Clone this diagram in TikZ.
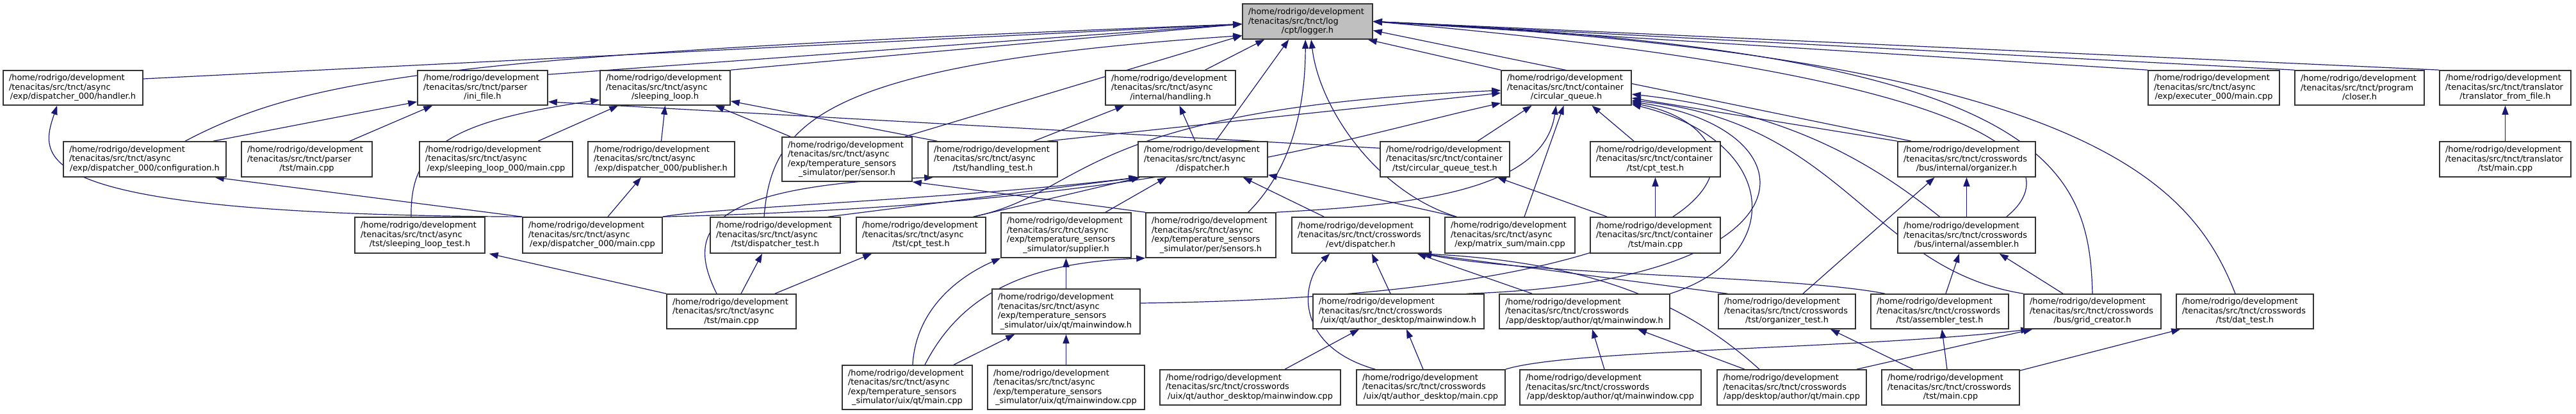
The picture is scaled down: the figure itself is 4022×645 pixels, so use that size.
\documentclass[tikz,border=0pt]{standalone}
\usepackage{fontspec}
\newfontfamily\dvs{DejaVu Sans}
\usetikzlibrary{arrows.meta,calc,backgrounds}
\definecolor{edgeblue}{RGB}{25,25,112}
\definecolor{loggrey}{RGB}{191,191,191}
\newcommand\lastln[1]{\makebox[\hsize][c]{#1}}
\newcommand\hrd{/home/rodrigo/development}
\newcommand\tnct[1]{/tenacitas/src/tnct/#1}
\newcommand\bx[7][]{%
  \pgfmathsetmacro\bxtw{(#5-18)*0.5}%
  \pgfmathsetmacro\bxmh{#6*0.5}%
  \node[box,#1,text width=\bxtw pt,minimum height=\bxmh pt] (#2) at (#3,-#4) {#7};}
\tikzset{
  box/.style={draw=black!80, line width=0.8pt, fill=white, inner xsep=4.5pt, inner ysep=1pt,
    align=left, font=\dvs\fontsize{6.45}{7.25}\selectfont},
  edge/.style={draw=edgeblue, line width=0.6pt, -{Triangle[length=7pt,width=5pt]}}
}
\begin{document}
\begin{tikzpicture}[x=0.5pt,y=0.5pt]
\useasboundingbox (0,0) rectangle (4022,-645);
% row 0
\bx[fill=loggrey]{logger}{2041.5}{33.5}{203}{55}{\hrd\\\tnct{log}\\\lastln{/cpt/logger.h}}
% row 1
\bx{handler}{114}{137}{218}{54}{\hrd\\\tnct{async}\\\lastln{/exp/dispatcher\_000/handler.h}}
\bx{inifile}{753.5}{137}{203}{54}{\hrd\\\tnct{parser}\\\lastln{/ini\_file.h}}
\bx{sleeploop}{1038.5}{137}{203}{54}{\hrd\\\tnct{async}\\\lastln{/sleeping\_loop.h}}
\bx{handling}{1827.5}{137}{203}{54}{\hrd\\\tnct{async}\\\lastln{/internal/handling.h}}
\bx{cq}{2445.5}{137}{203}{54}{\hrd\\\tnct{container}\\\lastln{/circular\_queue.h}}
\bx{execmain}{3456.5}{137}{205}{54}{\hrd\\\tnct{async}\\\lastln{/exp/executer\_000/main.cpp}}
\bx{closer}{3684}{137}{202}{54}{\hrd\\\tnct{program}\\\lastln{/closer.h}}
\bx{transff}{3911.5}{137}{205}{54}{\hrd\\\tnct{translator}\\\lastln{/translator\_from\_file.h}}
% row 2
\bx{config}{226}{248.5}{254}{55}{\hrd\\\tnct{async}\\\lastln{/exp/dispatcher\_000/configuration.h}}
\bx{parsermain}{479}{248.5}{204}{55}{\hrd\\\tnct{parser}\\\lastln{/tst/main.cpp}}
\bx{slmain}{774.5}{248.5}{239}{55}{\hrd\\\tnct{async}\\\lastln{/exp/sleeping\_loop\_000/main.cpp}}
\bx{publisher}{1032.5}{248.5}{229}{55}{\hrd\\\tnct{async}\\\lastln{/exp/dispatcher\_000/publisher.h}}
\bx{sensor}{1322.5}{248.5}{203}{69}{\hrd\\\tnct{async}\\/exp/temperature\_sensors\\\lastln{\_simulator/per/sensor.h}}
\bx{handlingtest}{1550}{248.5}{202}{55}{\hrd\\\tnct{async}\\\lastln{/tst/handling\_test.h}}
\bx{adisp}{1878}{248.5}{202}{55}{\hrd\\\tnct{async}\\\lastln{/dispatcher.h}}
\bx{cqtest}{2256}{248.5}{202}{55}{\hrd\\\tnct{container}\\\lastln{/tst/circular\_queue\_test.h}}
\bx{ccpttest}{2584.5}{248.5}{203}{55}{\hrd\\\tnct{container}\\\lastln{/tst/cpt\_test.h}}
\bx{organizer}{3070.5}{248.5}{215}{55}{\hrd\\\tnct{crosswords}\\\lastln{/bus/internal/organizer.h}}
\bx{transmain}{3911.5}{248.5}{205}{55}{\hrd\\\tnct{translator}\\\lastln{/tst/main.cpp}}
% row 3
\bx{sltest}{655.5}{367}{203}{56}{\hrd\\\tnct{async}\\\lastln{/tst/sleeping\_loop\_test.h}}
\bx{d000main}{925}{367}{218}{56}{\hrd\\\tnct{async}\\\lastln{/exp/dispatcher\_000/main.cpp}}
\bx{disptest}{1210.5}{367}{203}{56}{\hrd\\\tnct{async}\\\lastln{/tst/dispatcher\_test.h}}
\bx{acpttest}{1438}{367}{202}{56}{\hrd\\\tnct{async}\\\lastln{/tst/cpt\_test.h}}
\bx{supplier}{1664.5}{367}{203}{70}{\hrd\\\tnct{async}\\/exp/temperature\_sensors\\\lastln{\_simulator/supplier.h}}
\bx{sensors}{1890.5}{367}{203}{70}{\hrd\\\tnct{async}\\/exp/temperature\_sensors\\\lastln{\_simulator/per/sensors.h}}
\bx{edisp}{2124.5}{367}{215}{56}{\hrd\\\tnct{crosswords}\\\lastln{/evt/dispatcher.h}}
\bx{matrixmain}{2357.5}{367}{203}{56}{\hrd\\\tnct{async}\\\lastln{/exp/matrix\_sum/main.cpp}}
\bx{cmain}{2584.5}{367}{203}{56}{\hrd\\\tnct{container}\\\lastln{/tst/main.cpp}}
\bx{assembler}{3070.5}{367}{215}{56}{\hrd\\\tnct{crosswords}\\\lastln{/bus/internal/assembler.h}}
% row 4
\bx{amain}{1142}{486}{202}{54}{\hrd\\\tnct{async}\\\lastln{/tst/main.cpp}}
\bx{tmw}{1664.5}{486}{231}{70}{\hrd\\\tnct{async}\\/exp/temperature\_sensors\\\lastln{\_simulator/uix/qt/mainwindow.h}}
\bx{admw}{2183.5}{486}{267}{54}{\hrd\\\tnct{crosswords}\\\lastln{/uix/qt/author\_desktop/mainwindow.h}}
\bx{aqmw}{2474}{486}{266}{54}{\hrd\\\tnct{crosswords}\\\lastln{/app/desktop/author/qt/mainwindow.h}}
\bx{orgtest}{2790}{486}{214}{54}{\hrd\\\tnct{crosswords}\\\lastln{/tst/organizer\_test.h}}
\bx{asmtest}{3028.5}{486}{215}{54}{\hrd\\\tnct{crosswords}\\\lastln{/tst/assembler\_test.h}}
\bx{grid}{3267}{486}{214}{54}{\hrd\\\tnct{crosswords}\\\lastln{/bus/grid\_creator.h}}
\bx{dattest}{3505}{486}{214}{54}{\hrd\\\tnct{crosswords}\\\lastln{/tst/dat\_test.h}}
% row 5
\bx{tmain}{1416.5}{604.5}{203}{69}{\hrd\\\tnct{async}\\/exp/temperature\_sensors\\\lastln{\_simulator/uix/qt/main.cpp}}
\bx{tmwcpp}{1664.5}{604.5}{245}{69}{\hrd\\\tnct{async}\\/exp/temperature\_sensors\\\lastln{\_simulator/uix/qt/mainwindow.cpp}}
\bx{admwcpp}{1952}{604.5}{282}{55}{\hrd\\\tnct{crosswords}\\\lastln{/uix/qt/author\_desktop/mainwindow.cpp}}
\bx{admain}{2234}{604.5}{232}{55}{\hrd\\\tnct{crosswords}\\\lastln{/uix/qt/author\_desktop/main.cpp}}
\bx{aqmwcpp}{2514.5}{604.5}{283}{55}{\hrd\\\tnct{crosswords}\\\lastln{/app/desktop/author/qt/mainwindow.cpp}}
\bx{aqmain}{2797.5}{604.5}{233}{55}{\hrd\\\tnct{crosswords}\\\lastln{/app/desktop/author/qt/main.cpp}}
\bx{cwmain}{3045.5}{604.5}{215}{55}{\hrd\\\tnct{crosswords}\\\lastln{/tst/main.cpp}}

\begin{pgfonlayer}{background}
\fill[white] (0,0) rectangle (4022,-645);
% to logger
\draw[edge] ([yshift=7pt]handler.east) -- ([yshift=-2pt]logger.west);
\draw[edge] ([xshift=31.5pt]config.north) .. controls (480,-120) and (700,-85) .. ([yshift=-2pt]logger.west);
\draw[edge] ([yshift=-3.5pt]inifile.north east) -- ([yshift=-2pt]logger.west);
\draw[edge] (sleeploop.north east) -- ([yshift=-2pt]logger.west);
\draw[edge] ([xshift=-6pt]sensor.north east) -- ([yshift=-11pt]logger.west);
\draw[edge] ([xshift=-8.75pt]disptest.north) .. controls (1205,-190) and (1280,-100) .. ([yshift=-11pt]logger.west);
\draw[edge] ([xshift=27pt]handling.north) -- ([xshift=17.5pt]logger.south west);
\draw[edge] ([xshift=10pt]adisp.north) -- ([xshift=36.5pt]logger.south west);
\draw[edge] ([xshift=-22pt]sensors.north east) .. controls (2020,-260) and (2038,-160) .. ([xshift=49.5pt]logger.south west);
\draw[edge] ([xshift=9.5pt]matrixmain.north west) .. controls (2150,-300) and (2060,-170) .. ([xshift=54pt]logger.south west);
\draw[edge] (cq.north west) -- ([xshift=-4pt]logger.south east);
\draw[edge] ([xshift=11pt]organizer.north west) -- ([yshift=-7pt]logger.east);
\draw[edge] (execmain.north west) -- (logger.east);
\draw[edge] (closer.north west) -- (logger.east);
\draw[edge] (transff.north west) -- (logger.east);
\draw[edge] (grid.north) .. controls (3262,-260) and (3200,-80) .. (logger.east);
\draw[edge] ([xshift=-7.5pt]dattest.north) .. controls (3420,-280) and (3250,-90) .. (logger.east);
\draw[edge] ([xshift=-23pt]assembler.north east) .. controls (3230,-260) and (3150,-120) .. (logger.east);
% ini_file
\draw[edge] ([xshift=-10.5pt]config.north east) -- ([yshift=3pt]inifile.south west);
\draw[edge] ([xshift=33.5pt]parsermain.north) -- ([xshift=12pt]inifile.south west);
\draw[edge] ([yshift=-5.5pt]cqtest.north west) -- ([yshift=3pt]inifile.south east);
% sleeping_loop
\draw[edge] ([xshift=32.75pt]slmain.north) -- ([xshift=14.5pt]sleeploop.south west);
\draw[edge] (publisher.north) -- (sleeploop.south);
\draw[edge] ([xshift=7pt]sensor.north west) -- ([xshift=-12pt]sleeploop.south east);
\draw[edge] ([xshift=7.5pt]handlingtest.north west) -- ([yshift=3.5pt]sleeploop.south east);
\draw[edge] ([xshift=-6.75pt]sltest.north) .. controls (640,-230) and (700,-190) .. ([yshift=4.5pt]sleeploop.south west);
% dispatcher_000 main
\draw[edge] (d000main.north west) .. controls (40,-335) and (60,-250) .. ([xshift=42.5pt]handler.south west);
\draw[edge] (d000main.north west) -- ([xshift=-9pt]config.south east);
\draw[edge] ([xshift=12pt]d000main.north) -- ([xshift=-15.75pt]publisher.south);
\draw[edge] (d000main.north east) .. controls (1100,-325) and (1500,-310) .. (adisp.south west);
\draw[edge] (d000main.north east) .. controls (1800,-320) and (2100,-215) .. ([yshift=2pt]cq.south west);
% handling / circular queue
\draw[edge] ([xshift=32pt]handlingtest.north) -- ([xshift=15pt]handling.south west);
\draw[edge] ([xshift=-8.5pt]handlingtest.north east) -- ([yshift=-4pt]cq.west);
\draw[edge] ([xshift=-6pt]adisp.north) -- ([xshift=7pt]handling.south);
% async dispatcher
\draw[edge] ([xshift=-10pt]acpttest.north east) -- ([xshift=2pt]adisp.south west);
\draw[edge] ([xshift=-10pt]acpttest.north east) .. controls (1700,-300) and (1680,-170) .. ([yshift=-2pt]cq.west);
\draw[edge] ([xshift=-10pt]disptest.north east) -- ([xshift=1pt]adisp.south west);
\draw[edge] ([xshift=30.75pt]supplier.north) -- ([xshift=22.5pt]adisp.south west);
\draw[edge] ([xshift=25.5pt]edisp.north west) -- ([xshift=-19.5pt]adisp.south east);
\draw[edge] ([xshift=9.5pt]matrixmain.north west) -- ([yshift=2pt]adisp.south east);
\draw[edge] ([xshift=11.25pt]matrixmain.north) -- ([xshift=-2pt]cq.south);
% sensors
\draw[edge] (sensors.north west) -- (sensor.south east);
\draw[edge] (sensors.north east) .. controls (2200,-320) and (2410,-300) .. ([xshift=-8pt]cq.south);
% container tests
\draw[edge] ([xshift=25.5pt]cqtest.north) -- ([xshift=-27pt]cq.south);
\draw[edge] ([xshift=-16.75pt]ccpttest.north) -- ([xshift=20pt]cq.south);
\draw[edge] ([xshift=13.5pt]cmain.north west) -- ([xshift=-10pt]cqtest.south east);
\draw[edge] (cmain.north) -- (ccpttest.south);
% organizer / assembler
\draw[edge] (organizer.north west) -- ([yshift=-8pt]cq.east);
\draw[edge] ([xshift=-21pt]assembler.north) .. controls (2930,-260) and (2800,-175) .. ([yshift=-5pt]cq.east);
\draw[edge] ([xshift=12.5pt]orgtest.north) -- ([xshift=-25pt]organizer.south);
\draw[edge] (assembler.north) -- (organizer.south);
\draw[edge] ([xshift=4.75pt]asmtest.north) -- ([xshift=-5.75pt]assembler.south);
\draw[edge] ([xshift=-23pt]grid.north) -- ([xshift=-28.5pt]assembler.south east);
% circular queue from bottom right
\draw[edge] ([yshift=6.5pt]tmw.east) .. controls (2800,-460) and (2760,-200) .. ([yshift=2pt]cq.south east);
\draw[edge] (aqmw.north east) .. controls (2790,-400) and (2780,-220) .. ([yshift=1pt]cq.south east);
\draw[edge] ([xshift=-14pt]admw.north east) .. controls (2850,-440) and (2840,-200) .. ([yshift=3pt]cq.south east);
\draw[edge] (grid.north west) .. controls (2920,-420) and (2880,-190) .. ([yshift=4pt]cq.south east);
% crosswords evt dispatcher
\draw[edge] ([xshift=-6.25pt]admw.north) -- ([xshift=8.75pt]edisp.south);
\draw[edge] ([xshift=26pt]aqmw.north west) -- ([xshift=-10pt]edisp.south east);
\draw[edge] ([xshift=7.5pt]orgtest.north west) -- ([xshift=-6pt]edisp.south east);
\draw[edge] ([xshift=11.5pt]asmtest.north west) .. controls (2800,-430) and (2400,-430) .. ([xshift=-6pt]edisp.south east);
\draw[edge] ([xshift=15pt]admain.north west) .. controls (2020,-540) and (2030,-440) .. ([xshift=30pt]edisp.south west);
\draw[edge] ([xshift=-25.25pt]aqmain.north) .. controls (2640,-480) and (2500,-410) .. ([xshift=-6pt]edisp.south east);
% crosswords bottom row
\draw[edge] ([xshift=27pt]admwcpp.north) -- ([xshift=-30.75pt]admw.south);
\draw[edge] ([xshift=-6pt]admain.north) -- ([xshift=6.25pt]admw.south);
\draw[edge] ([xshift=-4.75pt]aqmwcpp.north) -- ([xshift=6pt]aqmw.south);
\draw[edge] ([xshift=-36.75pt]aqmain.north) -- ([xshift=41.5pt]aqmw.south);
\draw[edge] (admain.north east) .. controls (2450,-545) and (2900,-545) .. ([xshift=5pt]grid.south west);
\draw[edge] ([xshift=-8pt]aqmain.north east) -- ([xshift=7pt]grid.south west);
\draw[edge] ([xshift=-2.75pt]cwmain.north) -- ([xshift=1.75pt]asmtest.south);
\draw[edge] ([xshift=-29.25pt]cwmain.north) -- ([xshift=34pt]orgtest.south);
\draw[edge] ([yshift=-1pt]cwmain.north east) -- ([xshift=3.5pt]dattest.south west);
\draw[edge] (transmain) -- (transff);
% temperature sensors
\draw[edge] (tmw.north) -- (supplier.south);
\draw[edge] ([xshift=4.25pt]tmain.north) .. controls (1430,-480) and (1500,-430) .. (supplier.south west);
\draw[edge] ([xshift=13.75pt]tmain.north) .. controls (1500,-460) and (1600,-410) .. (sensors.south west);
\draw[edge] ([xshift=36.25pt]tmain.north) -- ([xshift=18pt]tmw.south west);
\draw[edge] (tmwcpp.north) -- (tmw.south);
% async tst main
\draw[edge] (amain.north west) -- ([xshift=3pt]sltest.south east);
\draw[edge] ([xshift=7.5pt]amain.north) -- ([xshift=-10.25pt]disptest.south);
\draw[edge] ([xshift=-17pt]amain.north east) -- ([xshift=12.5pt]acpttest.south west);
\draw[edge] ([xshift=-11.5pt]amain.north) .. controls (1070,-360) and (1100,-290) .. ([xshift=4.5pt]handlingtest.south west);
\end{pgfonlayer}
\end{tikzpicture}
\end{document}
